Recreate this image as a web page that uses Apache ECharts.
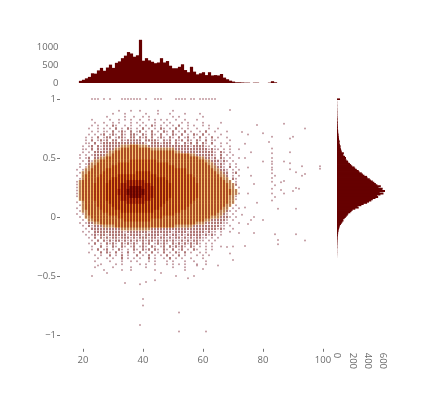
<!DOCTYPE html>
<html>
<head>
<meta charset="utf-8">
<style>html,body{margin:0;padding:0;background:#fff}#c{width:445px;height:408px}</style>
<script src="https://cdn.jsdelivr.net/npm/echarts@6/dist/echarts.min.js"></script>
</head>
<body>
<div id="c"></div>
<script>
// Marginal histogram over age
const ageBins = [19,20,21,22,23,24,25,26,27,28,29,30,31,32,33,34,35,36,37,38,39,40,41,42,43,44,45,46,47,48,49,50,51,52,53,54,55,56,57,58,59,60,61,62,63,64,65,66,67,68,69,70,71,72,73,74,75,77,78,82,83,84];
const ageCounts = [60,90,130,170,270,260,350,420,340,430,510,420,560,600,690,760,860,820,730,770,1200,620,690,630,590,550,570,690,570,610,480,410,410,450,520,360,300,450,315,240,270,300,220,300,210,220,210,250,150,105,65,40,20,20,15,10,10,10,10,10,50,20];
// Marginal histogram over the y value, bins from -0.34 to 1.00 in steps of 0.01
const yCounts = [1,0,2,0,3,1,2,0,4,3, 2,5,3,6,4,7,8,6,11,10, 15,13,20,18,26,30,34,38,52,62, 72,85,80,100,115,128,142,150,175,190, 205,240,285,270,320,350,395,420,450,470, 505,540,525,570,610,560,630,590,600,545, 575,530,510,490,470,445,430,400,395,360, 340,325,295,285,260,240,230,200,185,170, 150,145,125,115,118,105,85,80,90,62, 58,54,50,42,47,38,34,30,36,28, 26,22,24,18,20,16,14,15,12,10, 12,8,9,7,10,6,5,7,4,5, 3,4,2,4,3,2,3,1,2,2, 1,2,1,0,40];
const yBinStart = -0.34, yBinStep = 0.01;
// Ticks
const xTicks = [20,40,60,80,100];
const yTicks = [-1,-0.5,0,0.5,1];
const topTicks = [0,500,1000];
const rightTicks = [0,200,400,600];
// Point cloud read by eye: rows of y levels, columns of ages 18..72
const sparseStartAge = 18, sparseTopY = 0.9, sparseStepY = 0.025;
const sparseRows = [
"..........  ....1...1.  .1.....1..  ..1.......  ..........  .....",
"..........  ..1...1...  ...1...1..  .1....1...  .1........  .....",
"..........  1.....1..1  ..1.1.....  ..1.1.....  ..1.......  .....",
".....1....  .1..1.1.1.  .1..1.1.1.  1..1..1...  1.........  .....",
"......1..1  ..1.1...1.  1.1...1..1  .1...1.1..  ..1.....1.  .....",
".....1.1..  1.21..1.1.  .1.1.21.1.  1.1.2..1.1  ..1.1.....  .....",
"....1..1.1  .1.2.1.21.  1.2.1.1.21  .1.2.1.1..  1...1..1..  .....",
".....1.1.1  1.2.121.2.  12.1.2.1.2  1.2.1.2.1.  .1.2..1...  1....",
"....1.1.12  .121.21.22  1.21.21.2.  1.21.2.1.2  1.2.1...1.  .....",
"...1.1.2.1  22.1221.22  .212.2.121  .21.2.12.1  .2.1.2.1..  1....",
"...1.2.121  2.22.21222  22.22221.2  12.212.21.  21.2.11...  .1...",
"...11.2.12  2222222222  2221.22212  22.21.212.  2.21.2..1.  1....",
"..1.12.212  2222222222  2222222222  2222222212  22211.1.1.  .1...",
"..11.2.212  2222222222  2222222222  2222222222  22221211.1  .1..1",
"..1.1.2222  2222222222  2222222222  2222222222  2222221.21  .1...",
".1.1.12222  2222222222  2222222222  2222222222  2222221.2.  1.1..",
".1.12.2222  2222222222  2222222222  2222222222  2222212.21  .1..1",
"..1.212222  2222222222  2222222222  2222222222  2222222212  1.1..",
".1.1212222  2222222222  2222222222  2222222222  2222222121  .1.1.",
".1.1222222  2222222222  2222222222  2222222222  2222222221  .2.1.",
"1.12222222  2222222222  2222222222  2222222222  2222222222  1.1.1",
".1.2222222  2222222222  2222222222  2222222222  2222222222  2.12.",
"1.22222222  2222222222  2222222222  2222222222  2222222222  2.1.1",
".122222222  2222222222  2222222222  2222222222  2222222222  2.21.",
"1.22222222  2222222222  2222222222  2222222222  2222222222  22.1.",
"1122222222  2222222222  2222222222  2222222222  2222222222  22.2.",
"1222222222  2222222222  2222222222  2222222222  2222222222  221.1",
"1222222222  2222222222  2222222222  2222222222  2222222222  2221.",
"1222222222  2222222222  2222222222  2222222222  2222222222  222.1",
"1122222222  2222222222  2222222222  2222222222  2222222222  2221.",
".122222222  2222222222  2222222222  2222222222  2222222222  22.1.",
"1.22222222  2222222222  2222222222  2222222222  2222222222  222..",
".122222222  2222222222  2222222222  2222222222  2222222222  22.1.",
"1.12222222  2222222222  2222222222  2222222222  2222222222  2.1.1",
".1.2222222  2222222222  2222222222  2222222222  2222222222  21.1.",
"1.12222222  2222222222  2222222222  2222222222  2222222222  1.1..",
".1.2222222  2222222222  2222222222  2222222222  2222222222  21.1.",
"..1.222222  2222222222  2222222222  2222222222  2222222222  1.1..",
".1.1222222  2222222222  2222222222  2222222222  2222222221  1...1",
"..1.212222  2222222222  2222222222  2222222222  2222222211  .1...",
"...1.22222  2222222222  2222222222  2222222222  2222222121  ..1..",
"..1.1.2222  2222221222  2222122222  2212222122  2221211.1.  .1...",
"...1.12122  1222222122  2212222212  2122121222  2212121.1.  .....",
"....1.2.21  2122122212  1222122122  1212212121  2211.1.1..  .....",
".....1.2.2  1212212121  2121221212  2121121212  211.1.1...  .....",
"....1.2.1.  2121.21212  1.212.1212  1.21212121  21.1.1....  .....",
".....1..2.  1.21.21.12  .121.21.12  .212121.21  .1.1.1..1.  .....",
".....1.2.1  2.1.21.1.2  1.212.21.2  1.2.12.1.2  1..1.1....  .....",
"....1...2.  21.2.1.2.1  .2.1.2.1.2  .1.21.2.1.  .1.1......  .....",
"......1.1.  .2.1.2.1..  2.1.2.1.1.  2.1.2.1...  1.1.1.....  .....",
".......1..  1.1..2.1.1  .1..2.1..1  .2.1.1..1.  ..1.......  .....",
"......1...  .1...1..1.  1...1.1...  1.1...1..1  ..........  .....",
"........1.  ...1.1....  .1.1..1...  1.1.1.1...  1..1......  .....",
"......1...  ..1.....1.  ...1......  ..1...1...  ..........  .....",
".........1  .....1..1.  ......1...  ......1...  ..........  ....."
];
// Dense core: y level, then age ranges of density bands 3,4,5,6,7,8
const coreRows = [
[0.600,[33,41],[36,38]],
[0.575,[31,50],[33,42]],
[0.550,[29,52],[31,50]],
[0.525,[28,57],[30,55]],
[0.500,[26,60],[28,58]],
[0.475,[24,62],[26,60],[36,44]],
[0.450,[23,63],[25,61],[32,48]],
[0.425,[22,64],[24,62],[30,50]],
[0.400,[21,65],[23,63],[28,54]],
[0.375,[20,66],[22,64],[27,54],[38,42]],
[0.350,[20,67],[21,65],[26,56],[32,44]],
[0.325,[20,68],[21,66],[25,57],[30,47]],
[0.300,[19,69],[20,67],[25,57],[29,48],[35,40]],
[0.275,[19,70],[20,68],[24,58],[28,49],[33,42]],
[0.250,[19,70],[20,68],[24,58],[28,49],[33,43],[36,39]],
[0.225,[19,71],[20,69],[24,58],[28,49],[32,43],[35,40]],
[0.200,[19,71],[20,69],[24,58],[28,49],[32,43],[35,40]],
[0.175,[19,70],[20,68],[24,58],[28,49],[33,43],[36,39]],
[0.150,[19,70],[20,68],[24,57],[28,48],[33,42]],
[0.125,[20,70],[21,68],[25,56],[29,47],[35,40]],
[0.100,[20,69],[21,67],[25,55],[30,46]],
[0.075,[20,68],[21,66],[26,54],[31,45]],
[0.050,[20,67],[22,65],[27,52],[33,43]],
[0.025,[21,66],[22,64],[29,50]],
[0.000,[21,65],[23,62],[32,46]],
[-0.025,[22,62],[24,60],[34,42]],
[-0.050,[24,60],[26,57]],
[-0.075,[27,56],[31,50]],
[-0.100,[33,42]]
];
const coreStripe = ["#ad6a4a","#a8401c","#a02c10","#8e1a08","#7e0a04","#5e0000"];
const coreFill = ["#fde0a0","#f8c05a","#f4aa3a","#e8861e","#c0380a","#7d0500"];
// Row of points at y = 1
const topRowAges = [23,24,25,27,29,33,34,35,36,37,38,39,41,44,45,46,51,52,53,54,56,57,59,60,61,62,63,64];
// Isolated points: [age, y]
const outliers = [[69,0.907],[78,0.78],[87,0.79],[94,0.75],[80,0.71],[82,0.635],[83,0.68],[89,0.665],[90,0.68],[89,0.55],[83,0.58],[83,0.54],[83,0.5],[83,0.47],[83,0.45],[83,0.42],[83,0.4],[83,0.37],[84,0.35],[83,0.33],[83,0.3],[84,0.27],[83,0.24],[83,0.2],[84,0.17],[83,0.14],[80,0.47],[87,0.47],[89,0.455],[93,0.43],[99,0.43],[99,0.41],[89,0.405],[91,0.38],[94,0.365],[93,0.35],[87,0.305],[86,0.295],[90,0.22],[91,0.245],[92,0.24],[86,0.23],[87,0.2],[85,0.07],[91,0.07],[84,-0.145],[91,-0.145],[85,-0.195],[85,-0.23],[94,-0.2],[80,-0.025],[77,-0.135],[77,0],[76,-0.025],[74,-0.245],[72,-0.135],[69,-0.31],[70,-0.25],[70,-0.365],[68,-0.255],[65,-0.41],[61,-0.375],[60,-0.44],[58,-0.41],[39,-0.915],[52,-0.97],[61,-0.97],[52,-0.81],[40,-0.695],[40,-0.75],[23,-0.5],[28,-0.475],[34,-0.56],[39,-0.57],[41,-0.55],[44,-0.535],[46,-0.475],[51,-0.5],[55,-0.52],[57,-0.5],[25,-0.41],[74,0.5],[75,0.42],[76,0.35],[77,0.28],[75,0.2],[74,0.62],[76,0.55],[73,0.72],[75,0.7],[78,0.12],[74,0.08],[73,0.02],[75,-0.06]];

const faint=[], strong=[];
sparseRows.forEach((row,r)=>{
  const y = +(sparseTopY - r*sparseStepY).toFixed(3);
  row.replace(/ /g,'').split('').forEach((ch,c)=>{
    if(ch==='1') faint.push([sparseStartAge+c,y]);
    if(ch==='2') strong.push([sparseStartAge+c,y]);
  });
});
topRowAges.forEach(a=>faint.push([a,1]));
outliers.forEach(p=>faint.push(p));

function coreSeries(colors,width){
  return colors.map((col,level)=>{
    const d=[];
    coreRows.forEach(row=>{
      const rg=row[level+1];
      if(!rg) return;
      for(let a=rg[0];a<=rg[1];a++) d.push([a,row[0]]);
    });
    return {type:'scatter',xAxisIndex:0,yAxisIndex:0,data:d,symbol:'rect',symbolSize:[width,3.1],
      itemStyle:{color:col},silent:true};
  });
}

const txt={color:'#6a6a6a',fontFamily:'"Open Sans"',fontSize:9.5};
const L=65,W=258,T=95.5,H=251.3;
const bins=yCounts.map((_,i)=>(yBinStart+i*yBinStep).toFixed(2));
const fmt=v=>String(v).replace('-','\u2212');
const barStyle={color:'#660000'};

const chart=echarts.init(document.getElementById('c'),null,{renderer:'canvas'});
chart.setOption({
  animation:false,
  backgroundColor:'#fff',
  grid:[
    {left:L,width:W,top:T,height:H},
    {left:L+0.5,width:W,top:38,height:45},
    {left:337,width:48,top:98.4,height:159.3}
  ],
  xAxis:[
    {gridIndex:0,type:'value',min:14,max:100,offset:2,splitLine:{show:false},axisLine:{show:false,onZero:false},
      axisTick:{show:true,length:3,lineStyle:{color:'#777'},customValues:xTicks},
      axisLabel:{...txt,margin:6,customValues:xTicks,formatter:fmt,showMinLabel:true,showMaxLabel:true}},
    {gridIndex:1,type:'value',min:14,max:100,show:false},
    {gridIndex:2,type:'value',min:0,max:630,offset:91,splitLine:{show:false},axisLine:{show:false,onZero:false},axisTick:{show:false},
      axisLabel:{...txt,margin:4,rotate:-90,padding:[5,0,0,0],customValues:rightTicks,formatter:v=>String(v)}}
  ],
  yAxis:[
    {gridIndex:0,type:'value',min:-1.1,max:1.03,offset:5,splitLine:{show:false},axisLine:{show:false,onZero:false},
      axisTick:{show:true,length:3,lineStyle:{color:'#777'},customValues:yTicks},
      axisLabel:{...txt,margin:4,customValues:yTicks,formatter:fmt}},
    {gridIndex:1,type:'value',min:0,max:1250,splitLine:{show:false},axisLine:{show:false,onZero:false},axisTick:{show:false},
      axisLabel:{...txt,margin:7,customValues:topTicks,formatter:v=>String(v)}},
    {gridIndex:2,type:'category',data:bins,show:false,boundaryGap:true}
  ],
  series:[
    {type:'scatter',xAxisIndex:0,yAxisIndex:0,data:faint,symbol:'circle',symbolSize:2,itemStyle:{color:'rgba(125,40,55,0.6)'},silent:true},
    {type:'scatter',xAxisIndex:0,yAxisIndex:0,data:strong,symbol:'rect',symbolSize:[2,2.4],itemStyle:{color:'rgba(125,35,35,0.78)'},silent:true},
    ...coreSeries(coreFill,3.1),
    ...coreSeries(coreStripe,2),
    {type:'bar',xAxisIndex:1,yAxisIndex:1,data:ageBins.map((a,i)=>[a,ageCounts[i]]),barWidth:3.2,itemStyle:barStyle,silent:true},
    {type:'bar',xAxisIndex:2,yAxisIndex:2,data:yCounts,barWidth:2,itemStyle:barStyle,silent:true}
  ]
});
</script>
</body>
</html>
